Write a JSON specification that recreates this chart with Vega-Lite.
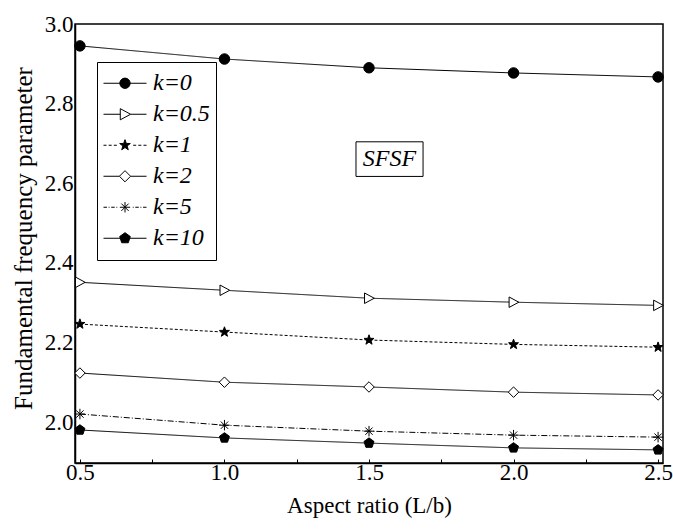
{
  "$schema": "https://vega.github.io/schema/vega-lite/v6.json",
  "width": 588,
  "height": 439,
  "autosize": {"type": "none"},
  "padding": {"left": 75, "top": 24, "right": 10, "bottom": 66},
  "background": "white",
  "config": {
    "view": {"stroke": "black", "strokeWidth": 1.5},
    "font": "Liberation Serif",
    "axis": {
      "domainColor": "black",
      "domainWidth": 1.5,
      "grid": false,
      "labelFont": "Liberation Serif",
      "labelFontSize": 23,
      "labelColor": "black",
      "titleFont": "Liberation Serif",
      "titleFontSize": 23,
      "titleFontWeight": "normal",
      "titleColor": "black",
      "tickColor": "black"
    }
  },
  "datasets": {
    "curves": [
      {"k": "0", "ratio": 0.5, "freq": 2.945},
      {"k": "0", "ratio": 1.0, "freq": 2.912},
      {"k": "0", "ratio": 1.5, "freq": 2.890},
      {"k": "0", "ratio": 2.0, "freq": 2.877},
      {"k": "0", "ratio": 2.5, "freq": 2.867},
      {"k": "0.5", "ratio": 0.5, "freq": 2.351},
      {"k": "0.5", "ratio": 1.0, "freq": 2.331},
      {"k": "0.5", "ratio": 1.5, "freq": 2.311},
      {"k": "0.5", "ratio": 2.0, "freq": 2.301},
      {"k": "0.5", "ratio": 2.5, "freq": 2.293},
      {"k": "1", "ratio": 0.5, "freq": 2.246},
      {"k": "1", "ratio": 1.0, "freq": 2.226},
      {"k": "1", "ratio": 1.5, "freq": 2.206},
      {"k": "1", "ratio": 2.0, "freq": 2.195},
      {"k": "1", "ratio": 2.5, "freq": 2.188},
      {"k": "2", "ratio": 0.5, "freq": 2.123},
      {"k": "2", "ratio": 1.0, "freq": 2.100},
      {"k": "2", "ratio": 1.5, "freq": 2.088},
      {"k": "2", "ratio": 2.0, "freq": 2.075},
      {"k": "2", "ratio": 2.5, "freq": 2.068},
      {"k": "5", "ratio": 0.5, "freq": 2.020},
      {"k": "5", "ratio": 1.0, "freq": 1.992},
      {"k": "5", "ratio": 1.5, "freq": 1.977},
      {"k": "5", "ratio": 2.0, "freq": 1.967},
      {"k": "5", "ratio": 2.5, "freq": 1.962},
      {"k": "10", "ratio": 0.5, "freq": 1.980},
      {"k": "10", "ratio": 1.0, "freq": 1.960},
      {"k": "10", "ratio": 1.5, "freq": 1.947},
      {"k": "10", "ratio": 2.0, "freq": 1.935},
      {"k": "10", "ratio": 2.5, "freq": 1.930}
    ],
    "ann": [
      {"label": "SFSF", "ratio": 1.455, "ratio2": 1.687, "freq": 2.617, "freq2": 2.704, "cx": 1.571, "cy": 2.661}
    ]
  },
  "data": {"name": "curves"},
  "encoding": {
    "x": {
      "field": "ratio",
      "type": "quantitative",
      "scale": {"domain": [0.483, 2.517], "nice": false, "zero": false},
      "axis": {
        "title": "Aspect ratio (L/b)",
        "values": [0.5, 0.75, 1, 1.25, 1.5, 1.75, 2, 2.25, 2.5],
        "labelExpr": "(datum.value * 4) % 2 == 0 ? format(datum.value, '.1f') : ''",
        "tickSize": -4,
        "labelPadding": 2,
        "labelFlush": false,
        "titleY": 42,
        "titleBaseline": "middle"
      }
    },
    "y": {
      "field": "freq",
      "type": "quantitative",
      "scale": {"domain": [1.897, 3.0], "nice": false, "zero": false},
      "axis": {
        "title": "Fundamental frequency parameter",
        "titleFontSize": 25,
        "values": [2.0, 2.2, 2.4, 2.6, 2.8, 3.0],
        "format": ".1f",
        "ticks": false,
        "labelPadding": 2,
        "labelFlush": false,
        "titleX": -52,
        "titleY": 214,
        "titleBaseline": "middle"
      }
    }
  },
  "layer": [
    {
      "mark": {"type": "line", "color": "black", "strokeWidth": 1},
      "encoding": {
        "detail": {"field": "k"},
        "strokeDash": {
          "field": "k",
          "type": "nominal",
          "scale": {"domain": ["0", "0.5", "1", "2", "5", "10"], "range": [[1, 0], [1, 0], [3, 2], [1, 0], [6, 2, 1, 2], [1, 0]]},
          "legend": null
        }
      }
    },
    {
      "mark": {"type": "point", "filled": true, "stroke": "black", "strokeWidth": 1, "size": 110, "opacity": 1},
      "encoding": {
        "shape": {
          "field": "k",
          "type": "nominal",
          "scale": {
            "domain": ["0", "0.5", "1", "2", "5", "10"],
            "range": [
              "circle",
              "M-0.85,-1L1,0L-0.85,1Z",
              "M0,-1L0.235,-0.324L0.951,-0.309L0.38,0.124L0.588,0.809L0,0.4L-0.588,0.809L-0.38,0.124L-0.951,-0.309L-0.235,-0.324Z",
              "diamond",
              "M-1,0H1M0,-1V1M-0.7,-0.7L0.7,0.7M-0.7,0.7L0.7,-0.7",
              "M0,-1L0.951,-0.309L0.588,0.809L-0.588,0.809L-0.951,-0.309Z"
            ]
          },
          "legend": null
        },
        "fill": {
          "field": "k",
          "type": "nominal",
          "scale": {"domain": ["0", "0.5", "1", "2", "5", "10"], "range": ["black", "white", "black", "white", "black", "black"]},
          "legend": null
        }
      }
    },
    {
      "transform": [{"filter": "datum.k == 'none'"}],
      "mark": {"type": "point", "filled": true, "stroke": "black", "strokeWidth": 1},
      "encoding": {
        "shape": {
          "field": "k",
          "type": "nominal",
          "scale": {
            "domain": ["0", "0.5", "1", "2", "5", "10"],
            "range": [
              "M-1,0H1M-0.24,0A0.24,0.24,0,1,0,0.24,0A0.24,0.24,0,1,0,-0.24,0Z",
              "M-1,0H-0.22M0.26,0H1M-0.22,-0.26L0.26,0L-0.22,0.26Z",
              "M-1,0H-0.86M-0.76,0H-0.62M-0.52,0H-0.38M0.38,0H0.52M0.62,0H0.76M0.86,0H1M0,-0.26L0.062,-0.085L0.247,-0.08L0.1,0.032L0.153,0.21L0,0.105L-0.153,0.21L-0.1,0.032L-0.247,-0.08L-0.062,-0.085Z",
              "M-1,0H-0.26M0.26,0H1M0,-0.26L0.26,0L0,0.26L-0.26,0Z",
              "M-1,0H-0.84M-0.76,0H-0.72M-0.64,0H-0.48M-0.4,0H-0.36M0.36,0H0.4M0.48,0H0.64M0.72,0H0.76M0.84,0H1M-0.24,0H0.24M0,-0.24V0.24M-0.17,-0.17L0.17,0.17M-0.17,0.17L0.17,-0.17",
              "M-1,0H1M0,-0.26L0.247,-0.08L0.153,0.21L-0.153,0.21L-0.247,-0.08Z"
            ]
          },
          "legend": {
            "orient": "none", "legendX": 22, "legendY": 38, "title": null,
            "labelExpr": "'k=' + datum.label",
            "labelFont": "Liberation Serif", "labelFontStyle": "italic", "labelFontSize": 24, "labelColor": "black",
            "symbolSize": 1849, "symbolStrokeColor": "black", "symbolStrokeWidth": 1, "symbolOpacity": 1,
            "strokeColor": "black", "fillColor": "white", "padding": 6, "clipHeight": 30.5, "rowPadding": 0, "labelOffset": 6,
            "encode": {"symbols": {"update": {"stroke": {"value": "black"}, "strokeWidth": {"value": 1}, "opacity": {"value": 1}}}}
          }
        },
        "fill": {
          "field": "k",
          "type": "nominal",
          "scale": {"domain": ["0", "0.5", "1", "2", "5", "10"], "range": ["black", "white", "black", "white", "black", "black"]},
          "legend": {
            "orient": "none", "legendX": 22, "legendY": 38, "title": null,
            "labelExpr": "'k=' + datum.label",
            "labelFont": "Liberation Serif", "labelFontStyle": "italic", "labelFontSize": 24, "labelColor": "black",
            "symbolSize": 1849, "symbolStrokeColor": "black", "symbolStrokeWidth": 1, "symbolOpacity": 1,
            "strokeColor": "black", "fillColor": "white", "padding": 6, "clipHeight": 30.5, "rowPadding": 0, "labelOffset": 6,
            "encode": {"symbols": {"update": {"stroke": {"value": "black"}, "strokeWidth": {"value": 1}, "opacity": {"value": 1}}}}
          }
        }
      }
    },
    {
      "data": {"name": "ann"},
      "mark": {"type": "rect", "fill": "white", "stroke": "black", "strokeWidth": 1},
      "encoding": {
        "x2": {"field": "ratio2"},
        "y2": {"field": "freq2"}
      }
    },
    {
      "data": {"name": "ann"},
      "mark": {"type": "text", "font": "Liberation Serif", "fontStyle": "italic", "fontSize": 24, "color": "black", "align": "center", "baseline": "middle"},
      "encoding": {
        "x": {"field": "cx", "type": "quantitative"},
        "y": {"field": "cy", "type": "quantitative"},
        "text": {"field": "label"}
      }
    }
  ],
  "resolve": {"scale": {"shape": "independent", "fill": "independent"}}
}
